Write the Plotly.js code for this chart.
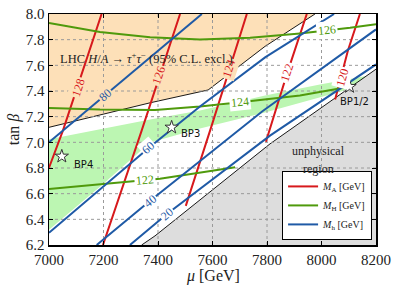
<!DOCTYPE html>
<html>
<head>
<meta charset="utf-8">
<script src="https://cdn.plot.ly/plotly-3.0.1.min.js"></script>
<style>html,body{margin:0;padding:0;background:#fff}#chart{width:398px;height:292px}</style>
</head>
<body>
<div id="chart"></div>
<script>
// ---- data ----
const xTicks = [7000, 7200, 7400, 7600, 7800, 8000, 8200];
const yTicks = [6.2, 6.4, 6.6, 6.8, 7.0, 7.2, 7.4, 7.6, 7.8, 8.0];

// excluded region (LHC H/A -> tau tau) lower boundary
const excl_mu = [7000, 7371, 7584, 7793, 7976];
const excl_tb = [7.117, 7.308, 7.408, 7.748, 8.0];

// light green band
const band_up_mu = [7000, 7187, 7371, 7554, 7793, 7994, 8185];
const band_up_tb = [7.025, 7.103, 7.177, 7.248, 7.365, 7.451, 7.525];
const band_lo_mu = [8105, 7793, 7554, 7371, 7187, 7000];
const band_lo_tb = [7.416, 7.232, 7.107, 6.998, 6.654, 6.318];

// unphysical region boundary
const unph_mu = [7340, 7389, 7811, 8200];
const unph_tb = [6.2, 6.271, 6.988, 7.57];

// M_A contours
const MA_levels = [128, 126, 124, 122, 120];
const ma128_mu = [7000, 7051, 7193], ma128_tb = [6.802, 7.091, 8.0];
const ma126_mu = [7198, 7340, 7481], ma126_tb = [6.2, 7.091, 8.0];
const ma124_mu = [7502, 7597, 7726], ma124_tb = [6.505, 7.130, 8.0];
const ma122_mu = [7796, 7875, 7946], ma122_tb = [7.005, 7.545, 8.0];
const ma120_mu = [8050, 8097, 8141], ma120_tb = [7.334, 7.716, 8.0];

// M_H contours
const MH_levels = [126, 124, 122];
const mh126_mu = [7000, 7187, 7371, 7554, 7738, 7921, 8105, 8200];
const mh126_tb = [7.930, 7.859, 7.818, 7.802, 7.814, 7.849, 7.892, 7.920];
const mh124_mu = [7000, 7187, 7389, 7554, 7701, 7811, 7921, 8097];
const mh124_tb = [7.267, 7.255, 7.252, 7.279, 7.313, 7.338, 7.365, 7.431];
const mh122_mu = [7000, 7187, 7308, 7407, 7554, 7683];
const mh122_tb = [6.636, 6.670, 6.697, 6.716, 6.763, 6.805];

// M_h contours
const Mh_levels = [80, 60, 40, 20];
const h80_mu = [7000, 7206, 7456, 7561], h80_tb = [7.0, 7.365, 7.808, 8.0];
const h60_mu = [7000, 7371, 7554, 7793, 8046], h60_tb = [6.295, 6.966, 7.279, 7.662, 8.0];
const h40_mu = [7175, 7371, 7528, 7782, 8200], h40_tb = [6.2, 6.545, 6.810, 7.24, 7.88];
const h20_mu = [7297, 7433, 7811, 8200], h20_tb = [6.2, 6.441, 7.052, 7.607];

// benchmark points
const bp_names = ['BP4', 'BP3', 'BP1/2'];
const bp_mu = [7047, 7450, 8103];
const bp_tb = [6.891, 7.117, 7.434];

// ---- styles ----
const RED = '#d7191c', GREEN = '#4f9a0c', BLUE = '#1f5aa6';
const ORANGE = '#fde0b8', LGREEN = 'rgb(188,246,178)', GRAY = 'rgb(221,221,221)';
const SERIF = 'Liberation Serif';

const xmin = xTicks[0], xmax = xTicks[xTicks.length - 1];
const ymin = yTicks[0], ymax = yTicks[yTicks.length - 1];

const traces = [];
traces.push({x: excl_mu.concat([xmin]), y: excl_tb.concat([ymax]), mode: 'lines', fill: 'toself',
  fillcolor: ORANGE, line: {color: 'rgba(0,0,0,0)', width: 0}, showlegend: false, hoverinfo: 'skip'});
traces.push({x: excl_mu, y: excl_tb, mode: 'lines', line: {color: '#000', width: 0.9}, showlegend: false, hoverinfo: 'skip'});
traces.push({x: band_up_mu.concat(band_lo_mu), y: band_up_tb.concat(band_lo_tb), mode: 'lines', fill: 'toself',
  fillcolor: LGREEN, line: {width: 0, color: 'rgba(0,0,0,0)'}, showlegend: false, hoverinfo: 'skip'});
traces.push({x: unph_mu.concat([xmax]), y: unph_tb.concat([ymin]), mode: 'lines', fill: 'toself',
  fillcolor: GRAY, line: {color: 'rgba(0,0,0,0)', width: 0}, showlegend: false, hoverinfo: 'skip'});
traces.push({x: unph_mu, y: unph_tb, mode: 'lines', line: {color: '#000', width: 0.9}, showlegend: false, hoverinfo: 'skip'});

// dotted grid drawn above the fills
xTicks.slice(1, -1).forEach(v => traces.push({x: [v, v], y: [ymin, ymax], mode: 'lines',
  line: {color: '#9a9a9a', width: 1, dash: 'dot'}, showlegend: false, hoverinfo: 'skip'}));
yTicks.slice(1, -1).forEach(v => traces.push({x: [xmin, xmax], y: [v, v], mode: 'lines',
  line: {color: '#9a9a9a', width: 1, dash: 'dot'}, showlegend: false, hoverinfo: 'skip'}));

function addLines(list, color, name) {
  list.forEach((p, i) => traces.push({x: p[0], y: p[1], mode: 'lines', line: {color: color, width: 2},
    name: name, legendgroup: name, showlegend: i === 0, hoverinfo: 'skip'}));
}
addLines([[ma128_mu, ma128_tb], [ma126_mu, ma126_tb], [ma124_mu, ma124_tb], [ma122_mu, ma122_tb], [ma120_mu, ma120_tb]],
  RED, '<i>M</i><sub>A</sub> [GeV]');
addLines([[mh126_mu, mh126_tb], [mh124_mu, mh124_tb], [mh122_mu, mh122_tb]], GREEN, '<i>M</i><sub>H</sub> [GeV]');
addLines([[h80_mu, h80_tb], [h60_mu, h60_tb], [h40_mu, h40_tb], [h20_mu, h20_tb]], BLUE, '<i>M</i><sub>h</sub> [GeV]');

traces.push({x: bp_mu, y: bp_tb, mode: 'markers', marker: {symbol: 'star', size: 10, color: '#fff',
  line: {color: '#333', width: 1}}, showlegend: false, hoverinfo: 'skip'});

// ---- annotations ----
const ann = [];
function lab(text, x, y, angle, color, bg) {
  ann.push({x: x, y: y, text: text, showarrow: false, textangle: angle, bgcolor: bg, borderpad: 1,
    font: {family: SERIF, size: 12, color: color}});
}
lab(String(MA_levels[0]), 7106, 7.427, -71, RED, ORANGE);
lab(String(MA_levels[1]), 7404, 7.521, -71, RED, ORANGE);
lab(String(MA_levels[2]), 7662, 7.576, -72, RED, ORANGE);
lab(String(MA_levels[3]), 7875, 7.545, -72, RED, '#fff');
lab(String(MA_levels[4]), 8075, 7.505, -74, RED, '#fff');
lab(String(MH_levels[0]), 8019, 7.873, -6, GREEN, '#fff');
lab(String(MH_levels[1]), 7701, 7.313, -6, GREEN, '#fff');
lab(String(MH_levels[2]), 7352, 6.705, -5, GREEN, '#fff');
lab(String(Mh_levels[0]), 7206, 7.372, -40, BLUE, ORANGE);
lab(String(Mh_levels[1]), 7363, 6.959, -41, BLUE, '#fff');
lab(String(Mh_levels[2]), 7371, 6.545, -39, BLUE, '#fff');
lab(String(Mh_levels[3]), 7433, 6.441, -40, BLUE, '#fff');

const bpOff = [[7127, 6.83], [7520, 7.07], [8120, 7.32]];
bp_names.forEach((n, i) => ann.push({x: bpOff[i][0], y: bpOff[i][1], text: n,
  showarrow: false, font: {family: 'DejaVu Sans', size: 10, color: '#111'}}));

ann.push({x: 7358, y: 7.66, text: 'LHC <i>H</i>/<i>A</i> → <i>τ</i><sup>+</sup><i>τ</i><sup>−</sup> (95% C.L. excl.)',
  showarrow: false, font: {family: SERIF, size: 12.5, color: '#222'}});
ann.push({x: 7990, y: 6.935, text: 'unphysical', showarrow: false, font: {family: SERIF, size: 12, color: '#222'}});
ann.push({x: 7990, y: 6.79, text: 'region', showarrow: false, font: {family: SERIF, size: 12, color: '#222'}});
// x-axis title
ann.push({xref: 'paper', yref: 'paper', x: 0.5, y: -0.134, yanchor: 'middle', showarrow: false,
  text: '<i>μ</i> [GeV]', font: {family: SERIF, size: 16, color: '#222'}});

const axisCommon = {showline: true, linecolor: '#000', linewidth: 1.5, mirror: 'ticks', ticks: 'inside',
  ticklen: 4, tickcolor: '#000', showgrid: false, zeroline: false,
  tickfont: {family: SERIF, size: 15, color: '#222'}};

const layout = {
  width: 398, height: 292,
  margin: {l: 49, r: 22, t: 14, b: 47},
  paper_bgcolor: '#fff', plot_bgcolor: '#fff',
  xaxis: Object.assign({}, axisCommon, {range: [xmin, xmax], tickvals: xTicks}),
  yaxis: Object.assign({}, axisCommon, {range: [ymin, ymax], tickvals: yTicks, tickformat: '.1f',
    title: {text: 'tan <i>β</i>', font: {family: SERIF, size: 16, color: '#222'}, standoff: 2}}),
  legend: {x: 0.988, y: 0.022, xanchor: 'right', yanchor: 'bottom', bgcolor: '#fff', bordercolor: '#000',
    borderwidth: 1, font: {family: SERIF, size: 10, color: '#222'}, tracegroupgap: 0, itemwidth: 30},
  annotations: ann,
  showlegend: true
};

Plotly.newPlot('chart', traces, layout, {staticPlot: true, displayModeBar: false});
</script>
</body>
</html>
